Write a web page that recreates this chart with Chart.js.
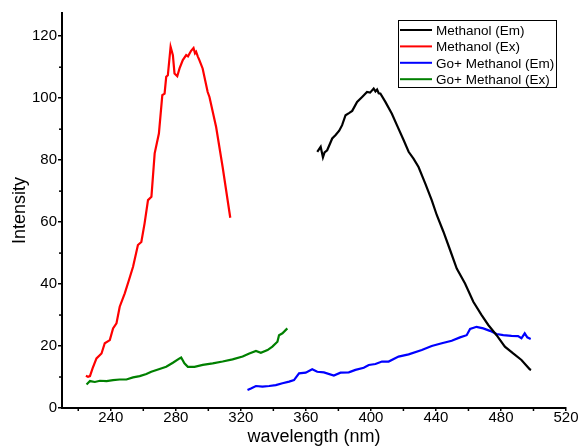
<!DOCTYPE html>
<html>
<head>
<meta charset="utf-8">
<script src="https://cdn.jsdelivr.net/npm/chart.js@4/dist/chart.umd.min.js"></script>
<style>html,body{margin:0;padding:0;background:#fff}</style>
</head>
<body>
<canvas id="grafico" width="578" height="448"></canvas>
<script>
// Dados
const xTicks = [240, 280, 320, 360, 400, 440, 480, 520];
const yTicks = [0, 20, 40, 60, 80, 100, 120];

const emMetWl = [367, 369.1, 370.5, 371.5, 373.1, 376.2, 378.3, 380.5, 382.3, 384.4, 386.5, 388.5, 391.5, 394.6, 397.6, 399.5, 401.7, 402.8, 403.8, 404.8, 405.8, 408.9, 412.9, 416, 420.1, 423.2, 426.2, 429.3, 433.4, 437.4, 440.5, 444.6, 448.7, 452.8, 457.9, 463, 468.1, 472.2, 477.3, 482.4, 487.5, 492.6, 497.7, 498.5];
const emMetVal = [82.7, 84.3, 80.9, 82.5, 83.2, 87, 88.1, 89.5, 91.3, 94.5, 95.2, 95.9, 98.8, 100.4, 102, 101.8, 103.1, 102.2, 102.8, 101.6, 101.5, 98.8, 95, 91.3, 86.5, 82.7, 80.5, 77.8, 72.5, 67.1, 62.3, 56.9, 51, 45, 40.2, 34.3, 30, 26.8, 23.5, 19.8, 17.6, 15.5, 12.5, 12.3];

const exMetWl = [224.7, 226, 227.2, 228.8, 231.2, 234.3, 236.3, 239.4, 241.4, 243.5, 245.5, 248.6, 251, 253.7, 256.7, 258.8, 260.8, 262.9, 265, 267, 269.6, 271.7, 273.1, 274.1, 275.1, 276.8, 278.2, 279.2, 280.9, 282.3, 284.3, 286.4, 287.5, 289.4, 290.9, 291.8, 292.5, 293.5, 294.5, 296.5, 299.6, 300.7, 304.8, 308.8, 313.5];
const exMetVal = [10.4, 10.1, 10.3, 12.8, 16, 17.6, 20.9, 21.9, 25.7, 27.3, 32.7, 37, 41, 45.6, 52.6, 53.6, 59.6, 67.1, 68.2, 82.2, 88.6, 101, 101.5, 106.9, 107.4, 116.6, 113.9, 108, 107.1, 109.6, 112.3, 113.9, 113.5, 115.3, 116.2, 114.5, 115, 113.5, 112.3, 109.6, 102, 100.4, 90.7, 77.8, 61.4];

const emGoWl = [324.1, 326.2, 329.3, 333.3, 337.4, 341.5, 345.6, 349.7, 352.7, 355.8, 359.9, 363.9, 367, 371.1, 377.2, 381.3, 386.4, 390.5, 395.6, 398.7, 402.8, 406.8, 410.9, 417, 423.2, 431.3, 437.4, 443.6, 449.7, 454.8, 458.9, 461, 465, 469.1, 473.2, 477.3, 481.4, 486.5, 490.5, 492.6, 494.6, 496.2, 498.3];
const emGoVal = [5.8, 6.3, 7.1, 6.9, 7.1, 7.4, 8, 8.5, 9, 11.2, 11.4, 12.5, 11.7, 11.5, 10.5, 11.4, 11.5, 12.3, 13, 13.9, 14.2, 15, 15, 16.6, 17.3, 18.7, 20, 20.9, 21.7, 22.8, 23.5, 25.5, 26.2, 25.7, 24.9, 23.9, 23.5, 23.3, 23.2, 22.5, 24.1, 22.8, 22.3];

const exGoWl = [225.1, 227.2, 230.2, 233.3, 237.4, 241.4, 245.5, 249.6, 253.7, 257.8, 261.9, 264.9, 270, 274.1, 278.2, 282.3, 283.3, 285.3, 287.4, 291.5, 296.6, 302.7, 308.8, 314.9, 321.1, 325.2, 329.3, 332.3, 336.4, 339.4, 342.5, 343.5, 345.6, 348.6];
const exGoVal = [7.6, 8.7, 8.4, 8.8, 8.7, 9, 9.2, 9.2, 9.9, 10.3, 11, 11.7, 12.6, 13.3, 14.6, 16, 16.3, 14.4, 13.3, 13.3, 13.9, 14.4, 15, 15.7, 16.6, 17.6, 18.4, 17.8, 18.7, 19.8, 21.4, 23.5, 24.1, 25.7];

const labels = ["Methanol (Em)", "Methanol (Ex)", "Go+ Methanol (Em)", "Go+ Methanol (Ex)"];
const colors = ["#000000", "#ff0000", "#0000ff", "#008000"];

function pts(xs, ys){ return xs.map((x, i) => ({x: x, y: ys[i]})); }
const series = [pts(emMetWl, emMetVal), pts(exMetWl, exMetVal), pts(emGoWl, emGoVal), pts(exGoWl, exGoVal)];

const fonte = "'Liberation Sans', Arial, sans-serif";

// ticks menores + legenda com caixa
const extras = {
  id: "extras",
  afterDraw(chart){
    const c = chart.ctx, xs = chart.scales.x, ys = chart.scales.y;
    c.save();
    c.strokeStyle = "#000"; c.lineWidth = 1.5;
    for (let v = 220; v < 520; v += 40){
      const p = xs.getPixelForValue(v);
      c.beginPath(); c.moveTo(p, ys.bottom); c.lineTo(p, ys.bottom + 3); c.stroke();
    }
    for (let v = 10; v < 127; v += 20){
      const p = ys.getPixelForValue(v);
      c.beginPath(); c.moveTo(xs.left, p); c.lineTo(xs.left - 3, p); c.stroke();
    }
    // legenda
    const bx = 398, by = 20, bw = 158, bh = 67;
    c.fillStyle = "#fff"; c.fillRect(bx, by, bw, bh);
    c.lineWidth = 1; c.strokeStyle = "#000"; c.strokeRect(bx + 0.5, by + 0.5, bw, bh);
    c.font = "13.5px " + fonte; c.textBaseline = "middle"; c.fillStyle = "#000";
    chart.data.datasets.forEach((ds, i) => {
      const y = by + 10 + i * 16.4;
      c.strokeStyle = ds.borderColor; c.lineWidth = 2;
      c.beginPath(); c.moveTo(bx + 2, y); c.lineTo(bx + 34, y); c.stroke();
      c.fillText(ds.label, bx + 38, y + 1);
    });
    c.restore();
  }
};

new Chart(document.getElementById("grafico"), {
  type: "line",
  data: {
    datasets: series.map((d, i) => ({
      label: labels[i], data: d, borderColor: colors[i], backgroundColor: colors[i],
      borderWidth: 2.2, pointRadius: 0, tension: 0, fill: false
    }))
  },
  options: {
    responsive: false, animation: false,
    layout: {padding: {top: 13, right: 12, left: 0, bottom: 0}},
    plugins: {legend: {display: false}, tooltip: {enabled: false}},
    scales: {
      x: {
        type: "linear", min: 210, max: 520,
        afterBuildTicks: s => { s.ticks = xTicks.map(v => ({value: v})); },
        afterFit: s => { s.height = 40; s.paddingLeft = 0; s.paddingRight = 0; },
        border: {color: "#000", width: 2},
        grid: {drawOnChartArea: false, drawTicks: true, tickLength: 3, color: "#000", lineWidth: 1.5},
        ticks: {color: "#000", font: {family: fonte, size: 15}, padding: -2, maxRotation: 0},
        title: {display: true, text: "wavelength (nm)", color: "#000", font: {family: fonte, size: 18}, padding: {top: 0, bottom: 0}}
      },
      y: {
        min: 0, max: 127.5,
        afterBuildTicks: s => { s.ticks = yTicks.map(v => ({value: v})); },
        afterFit: s => { s.width = 62; s.paddingTop = 0; s.paddingBottom = 0; },
        border: {color: "#000", width: 2},
        grid: {drawOnChartArea: false, drawTicks: true, tickLength: 4, color: "#000", lineWidth: 1.5},
        ticks: {color: "#000", font: {family: fonte, size: 15}, padding: 1},
        title: {display: true, text: "Intensity", color: "#000", font: {family: fonte, size: 18}, padding: {top: 9, bottom: 0}}
      }
    }
  },
  plugins: [extras]
});
</script>
</body>
</html>
